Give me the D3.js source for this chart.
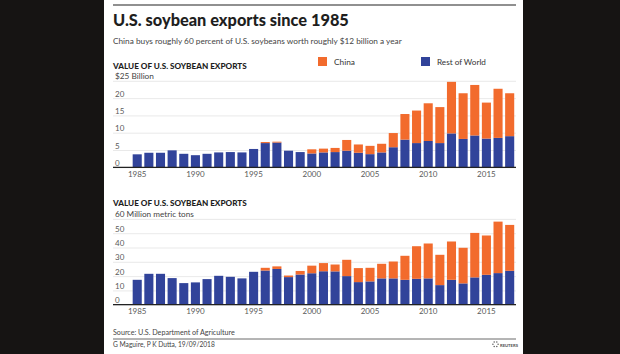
<!DOCTYPE html>
<html>
<head>
<meta charset="utf-8">
<script src="https://cdn.jsdelivr.net/npm/d3@7"></script>
<style>
  body { margin: 0; background: #161413; }
  text { font-family: Lato, "Open Sans", sans-serif; }
</style>
</head>
<body>
<div id="chart"></div>
<script>
const years = [1985, 1986, 1987, 1988, 1989, 1990, 1991, 1992, 1993, 1994, 1995,
  1996, 1997, 1998, 1999, 2000, 2001, 2002, 2003, 2004, 2005, 2006, 2007, 2008,
  2009, 2010, 2011, 2012, 2013, 2014, 2015, 2016, 2017];
const yearTicks = [1985, 1990, 1995, 2000, 2005, 2010, 2015];

// $ billion
const valueRest = [3.75, 4.2, 4.2, 4.9, 3.9, 3.5, 3.9, 4.3, 4.4, 4.3, 5.3,
  7.0, 7.15, 4.8, 4.4, 4.0, 4.3, 4.4, 4.8, 4.2, 3.8, 4.3, 5.8, 8.0,
  7.0, 7.6, 7.0, 9.8, 8.2, 9.2, 8.3, 8.5, 9.0];
const valueChina = [0, 0, 0, 0, 0, 0, 0, 0, 0, 0, 0,
  0.3, 0.25, 0, 0, 1.2, 1.1, 1.2, 3.1, 2.4, 2.4, 2.5, 4.1, 7.4,
  9.4, 10.9, 10.4, 14.9, 13.2, 14.6, 10.4, 14.2, 12.4];

// million metric tons
const volumeRest = [17.4, 21.6, 21.6, 18.6, 15.1, 15.6, 17.9, 20.2, 19.5, 18.4, 23.0,
  23.9, 25.0, 19.3, 21.1, 22.0, 23.4, 23.3, 20.0, 15.8, 16.3, 18.4, 18.4, 17.4,
  18.1, 18.4, 13.7, 17.4, 14.9, 19.1, 20.9, 22.1, 23.7];
const volumeChina = [0, 0, 0, 0, 0, 0, 0, 0, 0, 0, 0,
  1.9, 1.8, 1.1, 2.5, 5.3, 5.7, 4.8, 11.4, 9.8, 9.5, 10.2, 11.8, 16.8,
  22.8, 24.4, 21.2, 26.8, 24.9, 31.1, 27.5, 36.0, 32.1];

const valueTicks = [0, 5, 10, 15, 20, 25];
const volumeTicks = [0, 10, 20, 30, 40, 50, 60];

const width = 620,
  height = 354;
const blue = "#31439a",
  orange = "#f26b2d";
const left = 113,
  right = 516;

const svg = d3
  .select("#chart")
  .append("svg")
  .attr("width", width)
  .attr("height", height);

svg.append("rect").attr("width", width).attr("height", height).attr("fill", "#161413");
svg.append("rect").attr("x", 104).attr("y", 0).attr("width", 419).attr("height", height).attr("fill", "#fff");

// squeeze or stretch a text to a measured width by its font size
function fitWidth(sel, w) {
  const fs = parseFloat(sel.style("font-size"));
  const len = sel.node().getComputedTextLength();
  sel.style("font-size", (fs * w) / len + "px");
  return sel;
}

svg.append("line")
  .attr("x1", left).attr("x2", right).attr("y1", 5).attr("y2", 5)
  .attr("stroke", "#6b6b6b").attr("stroke-width", 1.5);

fitWidth(
  svg.append("text").attr("x", left).attr("y", 26)
    .style("font-size", "18px").style("font-weight", 900).attr("fill", "#1e1e1e")
    .text("U.S. soybean exports since 1985"),
  236
);

fitWidth(
  svg.append("text").attr("x", left).attr("y", 44)
    .style("font-size", "9px").attr("fill", "#444")
    .text("China buys roughly 60 percent of U.S. soybeans worth roughly $12 billion a year"),
  289
);

// legend
const legend = [
  { label: "China", color: orange, x: 318, w: 21 },
  { label: "Rest of World", color: blue, x: 421, w: 49 },
];
legend.forEach(function (d) {
  svg.append("rect").attr("x", d.x).attr("y", 57).attr("width", 9).attr("height", 9).attr("fill", d.color);
  fitWidth(
    svg.append("text").attr("x", d.x + 16).attr("y", 64.5)
      .style("font-size", "9px").attr("fill", "#333").text(d.label),
    d.w
  );
});

const x = d3
  .scaleBand()
  .domain(years)
  .range([131.4, 515.5])
  .paddingInner(0.22)
  .paddingOuter(0.11);

function panel(opts) {
  const y = d3.scaleLinear().domain([0, opts.max]).range([opts.base, opts.top]);
  const g = svg.append("g");

  fitWidth(
    g.append("text").attr("x", left).attr("y", opts.titleY)
      .style("font-size", "9px").style("font-weight", 900).attr("fill", "#1e1e1e")
      .text("VALUE OF U.S. SOYBEAN EXPORTS"),
    134
  );

  const yAxis = g
    .append("g")
    .attr("transform", `translate(${right},0)`)
    .call(d3.axisLeft(y).tickValues(opts.ticks).tickSize(right - left).tickFormat(function (d) {
      return d === opts.max ? opts.unit : d;
    }));
  yAxis.select(".domain").remove();
  yAxis.selectAll(".tick line").attr("stroke", "#e3e3e3").attr("stroke-width", 0.8);
  yAxis.selectAll(".tick text")
    .attr("x", -(right - left) + 2)
    .attr("dy", -2)
    .attr("text-anchor", "start")
    .attr("dominant-baseline", "auto")
    .attr("fill", "#5a5a5a")
    .style("font-size", "8px")
    .style("font-family", "Lato, sans-serif");
  yAxis.selectAll(".tick").filter(function (d) { return d === opts.max; }).select("text")
    .each(function () { fitWidth(d3.select(this), opts.unitW); })
    .attr("fill", "#444");

  const stacked = years.map(function (yr, i) {
    return { year: yr, rest: opts.rest[i], china: opts.china[i] };
  });

  g.selectAll(".rest")
    .data(stacked)
    .enter()
    .append("rect")
    .attr("x", function (d) { return x(d.year); })
    .attr("width", x.bandwidth())
    .attr("y", function (d) { return y(d.rest); })
    .attr("height", function (d) { return y(0) - y(d.rest); })
    .attr("fill", blue);

  g.selectAll(".china")
    .data(stacked.filter(function (d) { return d.china > 0; }))
    .enter()
    .append("rect")
    .attr("x", function (d) { return x(d.year); })
    .attr("width", x.bandwidth())
    .attr("y", function (d) { return y(d.rest + d.china); })
    .attr("height", function (d) { return y(d.rest) - y(d.rest + d.china); })
    .attr("fill", orange);

  g.append("line")
    .attr("x1", left).attr("x2", right)
    .attr("y1", y(0)).attr("y2", y(0))
    .attr("stroke", "#222").attr("stroke-width", 1.2);

  const xAxis = g
    .append("g")
    .attr("transform", `translate(0,${y(0)})`)
    .call(d3.axisBottom(x).tickValues(yearTicks).tickSize(0).tickPadding(4));
  xAxis.select(".domain").remove();
  xAxis.selectAll(".tick text")
    .attr("fill", "#5a5a5a")
    .style("font-size", "8px")
    .style("font-family", "Lato, sans-serif");
}

panel({
  rest: valueRest, china: valueChina, max: 25, ticks: valueTicks,
  base: 167.3, top: 80.8, titleY: 69, unit: "$25 Billion", unitW: 39,
});

panel({
  rest: volumeRest, china: volumeChina, max: 60, ticks: volumeTicks,
  base: 304.7, top: 218.9, titleY: 205.5, unit: "60 Million metric tons", unitW: 79,
});

// footer
fitWidth(
  svg.append("text").attr("x", left).attr("y", 335)
    .style("font-size", "8px").attr("fill", "#444")
    .text("Source: U.S. Department of Agriculture"),
  122
);
svg.append("line")
  .attr("x1", left).attr("x2", right).attr("y1", 339).attr("y2", 339)
  .attr("stroke", "#6b6b6b").attr("stroke-width", 1);
fitWidth(
  svg.append("text").attr("x", left).attr("y", 347)
    .style("font-size", "8px").attr("fill", "#444")
    .text("G Maguire, P K Dutta, 19/09/2018"),
  102
);

const logo = svg.append("g").attr("transform", "translate(495.5,344.3)");
[0, 60, 120, 180, 240, 300].forEach(function (a) {
  const r = (a * Math.PI) / 180;
  logo.append("circle").attr("cx", 2.6 * Math.cos(r)).attr("cy", 2.6 * Math.sin(r)).attr("r", 0.8).attr("fill", "#666");
});
fitWidth(
  logo.append("text").attr("x", 4.5).attr("y", 2.5)
    .style("font-size", "7px").style("font-weight", 900).attr("fill", "#555")
    .text("REUTERS"),
  18
);
</script>
</body>
</html>
